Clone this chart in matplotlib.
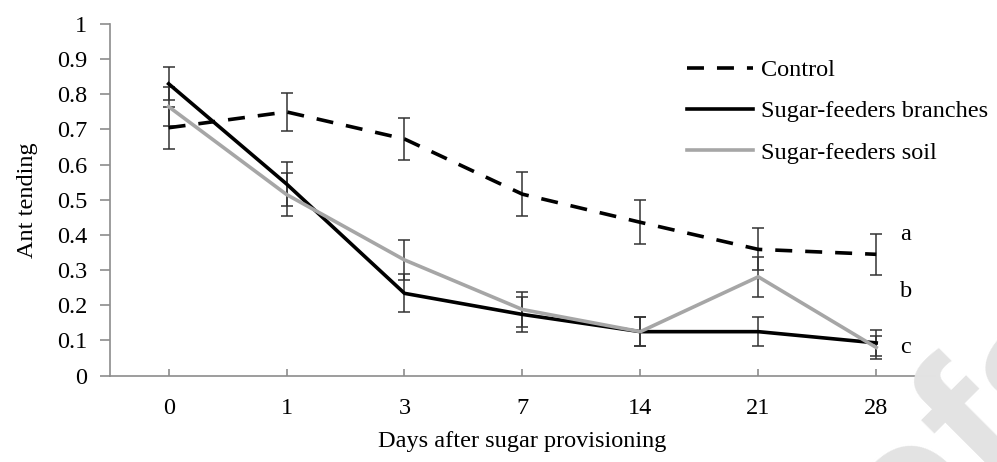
import numpy as np
import matplotlib.pyplot as plt

plt.rcParams['font.family'] = ['Liberation Serif', 'DejaVu Serif']

# Days after sugar provisioning (categorical x axis)
days = ['0', '1', '3', '7', '14', '21', '28']

# Mean ant tending and error (SE) per treatment
control = [0.705, 0.750, 0.673, 0.516, 0.436, 0.359, 0.345]
control_err = [0.060, 0.054, 0.060, 0.062, 0.063, 0.060, 0.059]

branches = [0.830, 0.545, 0.234, 0.174, 0.125, 0.125, 0.093]
branches_err = [0.047, 0.063, 0.054, 0.050, 0.041, 0.041, 0.036]

soil = [0.765, 0.515, 0.329, 0.188, 0.125, 0.281, 0.080]
soil_err = [0.055, 0.062, 0.057, 0.050, 0.041, 0.056, 0.032]

# significance letters next to the last point
letters = ['a', 'b', 'c']
letter_y = [0.40, 0.24, 0.08]

x = np.arange(len(days))
FS = 17.5

fig = plt.figure(figsize=(9.97, 4.62), dpi=100)

# faint "proofs" watermark, mostly off the page
fig.text(819 / 997, -202 / 462, 'oofs', rotation=45, rotation_mode='anchor',
         ha='left', va='baseline', fontsize=144, fontweight='bold',
         family='Liberation Sans', color='#e3e3e3', zorder=0)

ax = fig.add_axes([0.110, 0.187, 0.828, 0.761])
ax.patch.set_alpha(0)

err_kw = dict(fmt='none', ecolor='#333333', elinewidth=1.1, capsize=4, capthick=1.1, zorder=3)
ax.errorbar(x, control, yerr=control_err, **err_kw)
ax.errorbar(x, branches, yerr=branches_err, **err_kw)
ax.errorbar(x, soil, yerr=soil_err, **err_kw)

ax.plot(x, control, color='black', lw=2.6, linestyle=(0, (4.7, 3.6)), label='Control', zorder=4)
ax.plot(x, branches, color='black', lw=2.6, label='Sugar-feeders branches', zorder=4)
ax.plot(x, soil, color='#a6a6a6', lw=2.6, label='Sugar-feeders soil', zorder=4)

for lab, ly in zip(letters, letter_y):
    ax.text(x[-1] + 0.20, ly, lab, fontsize=FS, va='center', ha='left')

ax.set_xlim(-0.5, 6.5)
ax.set_ylim(0, 1)
ax.set_yticks(np.arange(0, 1.01, 0.1))
ax.set_yticklabels(['0'] + ['%.1f' % v for v in np.arange(0.1, 0.95, 0.1)] + ['1'])
ax.set_xticks(x)
ax.set_xticklabels(days)

for s in ['top', 'right']:
    ax.spines[s].set_visible(False)
for s in ['left', 'bottom']:
    ax.spines[s].set_color('#8c8c8c')
    ax.spines[s].set_linewidth(1.2)

ax.tick_params(axis='y', direction='out', length=7, width=1.2, color='#8c8c8c', labelsize=FS, pad=9)
ax.tick_params(axis='x', direction='in', length=5, width=1.2, color='#8c8c8c', labelsize=FS, pad=16)

ax.set_ylabel('Ant tending', fontsize=FS, labelpad=14)
ax.set_xlabel('Days after sugar provisioning', fontsize=FS, labelpad=9)

ax.legend(loc='upper left', bbox_to_anchor=(687 / 997, 1 - 59 / 462), bbox_transform=fig.transFigure,
          frameon=False, fontsize=FS, borderpad=0, borderaxespad=0,
          handlelength=2.7, handletextpad=0.35, labelspacing=0.80)

fig.savefig('out.png', dpi=100)
